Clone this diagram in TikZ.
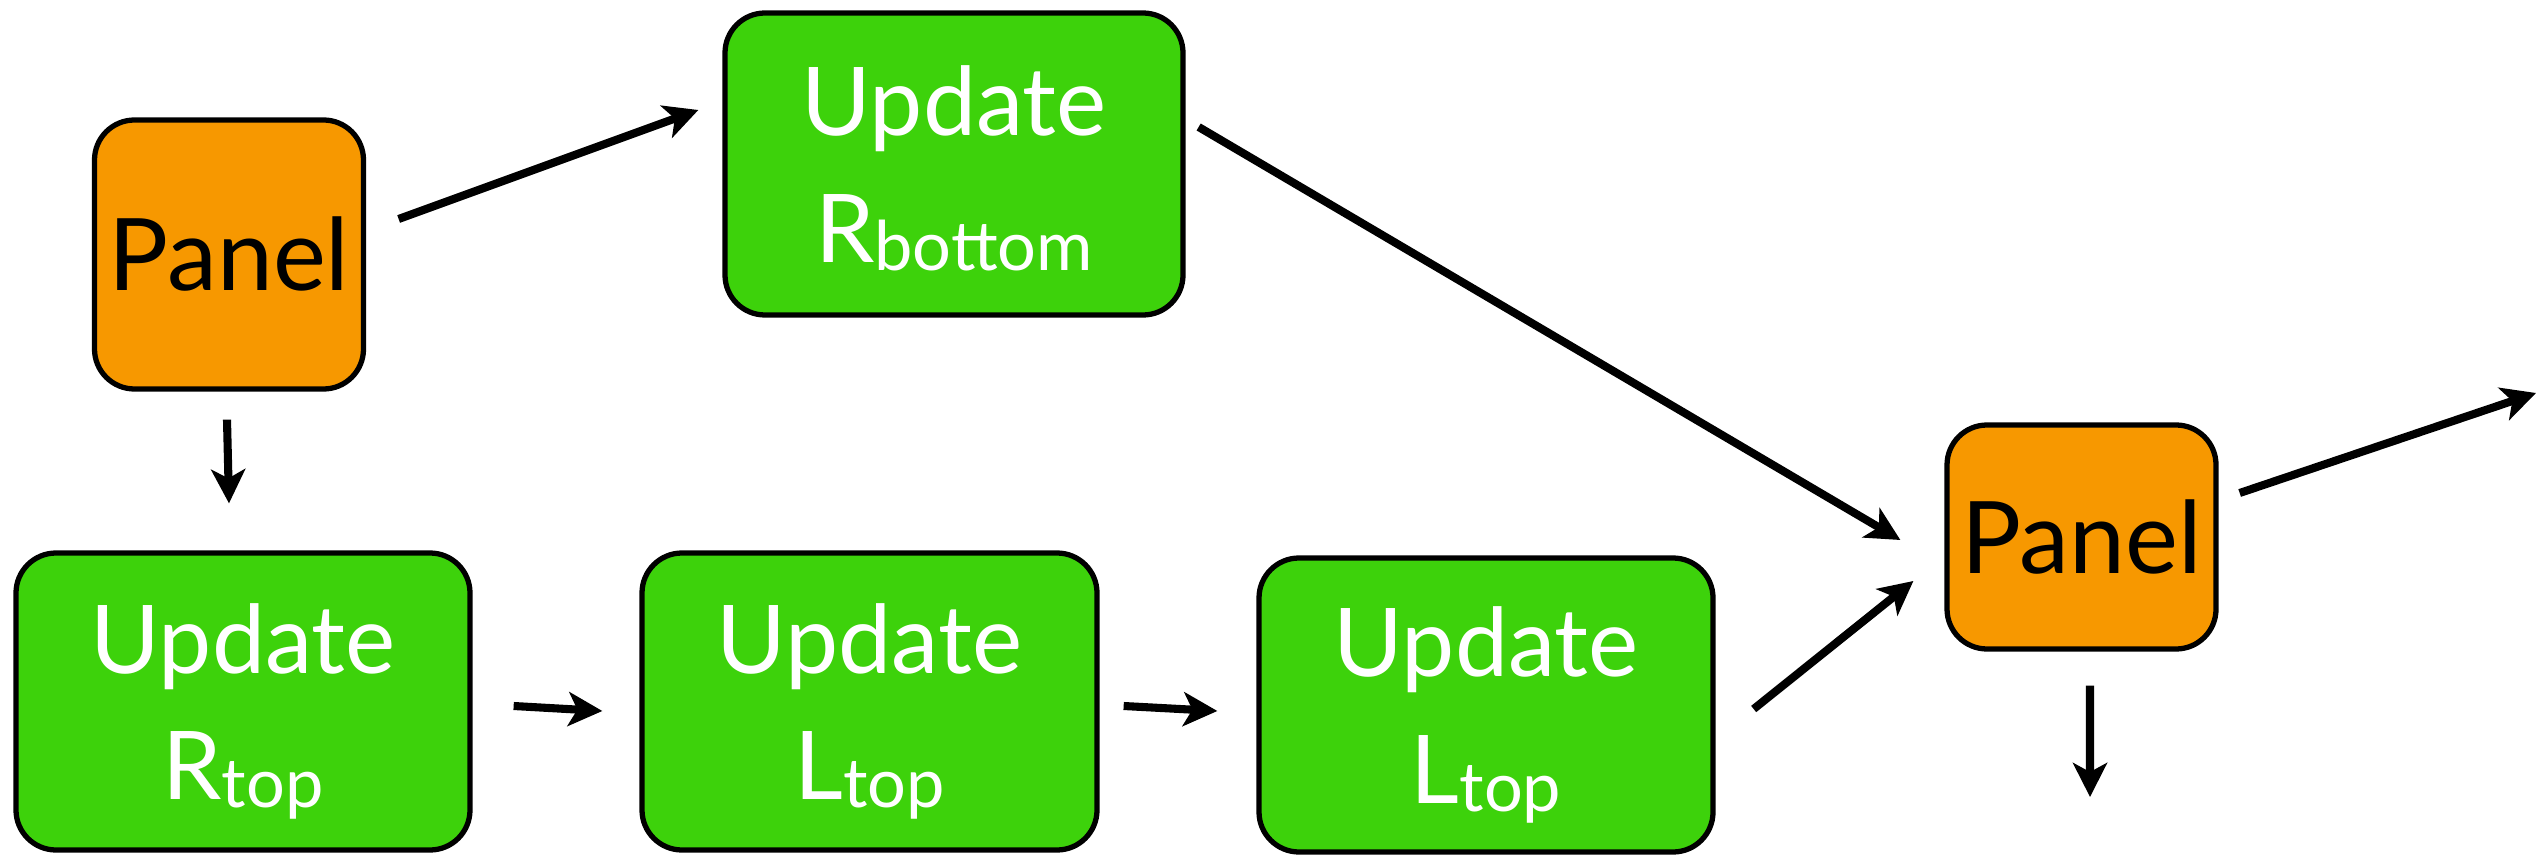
\documentclass[tikz,border=0pt]{standalone}
\usepackage{fontspec}
\setmainfont{Lato}
\usetikzlibrary{arrows.meta,calc}
\definecolor{boxgreen}{HTML}{3DD20B}
\definecolor{boxorange}{HTML}{F79800}
\newcommand{\sbx}[1]{\smash{\raisebox{-2.3pt}{\fontsize{19.5}{22}\selectfont #1}}}
\tikzset{
  upd/.style={draw=black, line width=1.5pt, rounded corners=0.4cm, fill=boxgreen,
    text=white, align=center, inner sep=0pt, font=\fontsize{27}{36}\selectfont},
  pan/.style={draw=black, line width=1.5pt, rounded corners=0.4cm, fill=boxorange,
    text=black, inner sep=0pt, font=\fontsize{28.5}{34}\selectfont},
  conn/.style={line width=2.3pt, -{Stealth[length=0.34cm, width=0.34cm, inset=0.09cm]}}
}
\begin{document}
\begin{tikzpicture}
\useasboundingbox (0,0) rectangle (25.44,-8.55);
\node[pan, minimum width=2.69cm, minimum height=2.69cm] (p1) at (2.29,-2.545) {Panel};
\node[upd, minimum width=4.58cm, minimum height=3.02cm] (rb) at (9.54,-1.64) {Update\\R\sbx{bottom}};
\node[upd, minimum width=4.54cm, minimum height=2.97cm] (rt) at (2.43,-7.015) {Update\\R\sbx{top}};
\node[upd, minimum width=4.55cm, minimum height=2.97cm] (l1) at (8.695,-7.015) {Update\\L\sbx{top}};
\node[upd, minimum width=4.54cm, minimum height=2.94cm] (l2) at (14.86,-7.05) {Update\\L\sbx{top}};
\node[pan, minimum width=2.69cm, minimum height=2.24cm] (p2) at (20.815,-5.37) {Panel};
\coordinate (out1) at (25.36,-3.93);
\coordinate (out2) at (20.90,-7.97);
\draw[conn] ($(p1.east)+(0.325,0.355)$) -- ($(rb.west)+(-0.24,0.54)$);
\draw[conn] ($(p1.south)+(-0.02,-0.28)$) -- ($(rt.north)+(-0.14,0.47)$);
\draw[conn] ($(rt.east)+(0.41,-0.045)$) -- ($(l1.west)+(-0.37,-0.095)$);
\draw[conn] ($(l1.east)+(0.24,-0.045)$) -- ($(l2.west)+(-0.39,-0.06)$);
\draw[conn] ($(l2.east)+(0.38,-0.04)$) -- ($(p2.west)+(-0.31,-0.44)$);
\draw[conn] ($(rb.east)+(0.13,0.37)$) -- ($(p2.west)+(-0.44,-0.03)$);
\draw[conn] ($(p2.east)+(0.21,0.44)$) -- (out1);
\draw[conn] ($(p2.south)+(0.085,-0.34)$) -- (out2);
\end{tikzpicture}
\end{document}
